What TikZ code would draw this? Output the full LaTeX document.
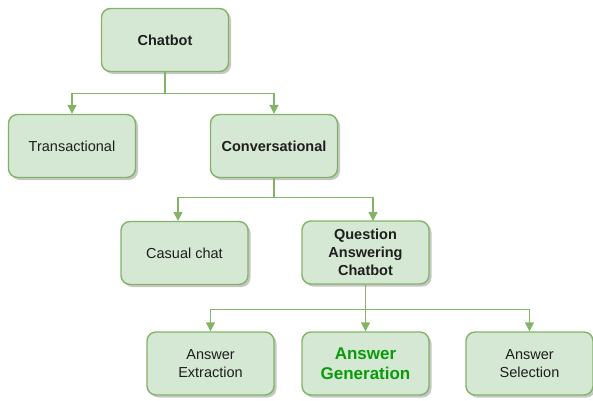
\documentclass[tikz,border=0pt]{standalone}
\usepackage{fontspec}
\setmainfont{Liberation Sans}
\usetikzlibrary{arrows.meta,shadows}
\definecolor{boxfill}{HTML}{D5E8D4}
\definecolor{boxline}{HTML}{82B366}
\definecolor{txt}{HTML}{1E1E1E}
\definecolor{gentxt}{HTML}{0A9A0A}
\tikzset{
  box/.style={draw=boxline, fill=boxfill, line width=1.4pt, rounded corners=9pt,
    minimum width=127pt, minimum height=63pt, inner sep=0pt, align=center,
    text=txt, font=\fontsize{14.5}{18}\selectfont,
    drop shadow={shadow xshift=2.5pt, shadow yshift=-2.5pt, opacity=0.22, fill=black}},
  boldbox/.style={box, font=\fontsize{14.5}{18}\selectfont\bfseries},
  conn/.style={draw=boxline, line width=1.4pt,
    -{Triangle[length=9pt,width=9pt,fill=boxline]}},
}
\begin{document}
\begin{tikzpicture}[x=1pt,y=-1pt]
  \useasboundingbox (0,0) rectangle (593,400);

  % tree nodes
  \node[boldbox] (chatbot) at (165,40) {Chatbot};
  \node[box] (trans) at (72,146) {Transactional};
  \node[boldbox] (conv) at (274,146) {Conversational};
  \node[box] (casual) at (184.5,253) {Casual chat};
  \node[boldbox] (qa) at (365.5,252.5) {Question\\Answering\\Chatbot};
  \node[box] (ext) at (210.5,363.5) {Answer\\Extraction};
  \node[box, text=gentxt, font=\fontsize{17}{20}\selectfont\bfseries] (gen) at (365.5,363.5) {Answer\\Generation};
  \node[box] (sel) at (529.5,363.5) {Answer\\Selection};

  % entry points on the second-level boxes, off their centres
  \coordinate (casualin) at (178,221);
  \coordinate (qain) at (373,221);

  % connectors
  \draw[conn] (chatbot.south) -- ++(0,21) -| (trans.north);
  \draw[conn] (chatbot.south) -- ++(0,21) -| (conv.north);
  \draw[conn] (conv.south) -- ++(0,19) -| (casualin);
  \draw[conn] (conv.south) -- ++(0,19) -| (qain);
  \draw[conn] (qa.south) -- ++(0,25) -| (ext.north);
  \draw[conn] (qa.south) -- (gen.north);
  \draw[conn] (qa.south) -- ++(0,25) -| (sel.north);
\end{tikzpicture}
\end{document}
